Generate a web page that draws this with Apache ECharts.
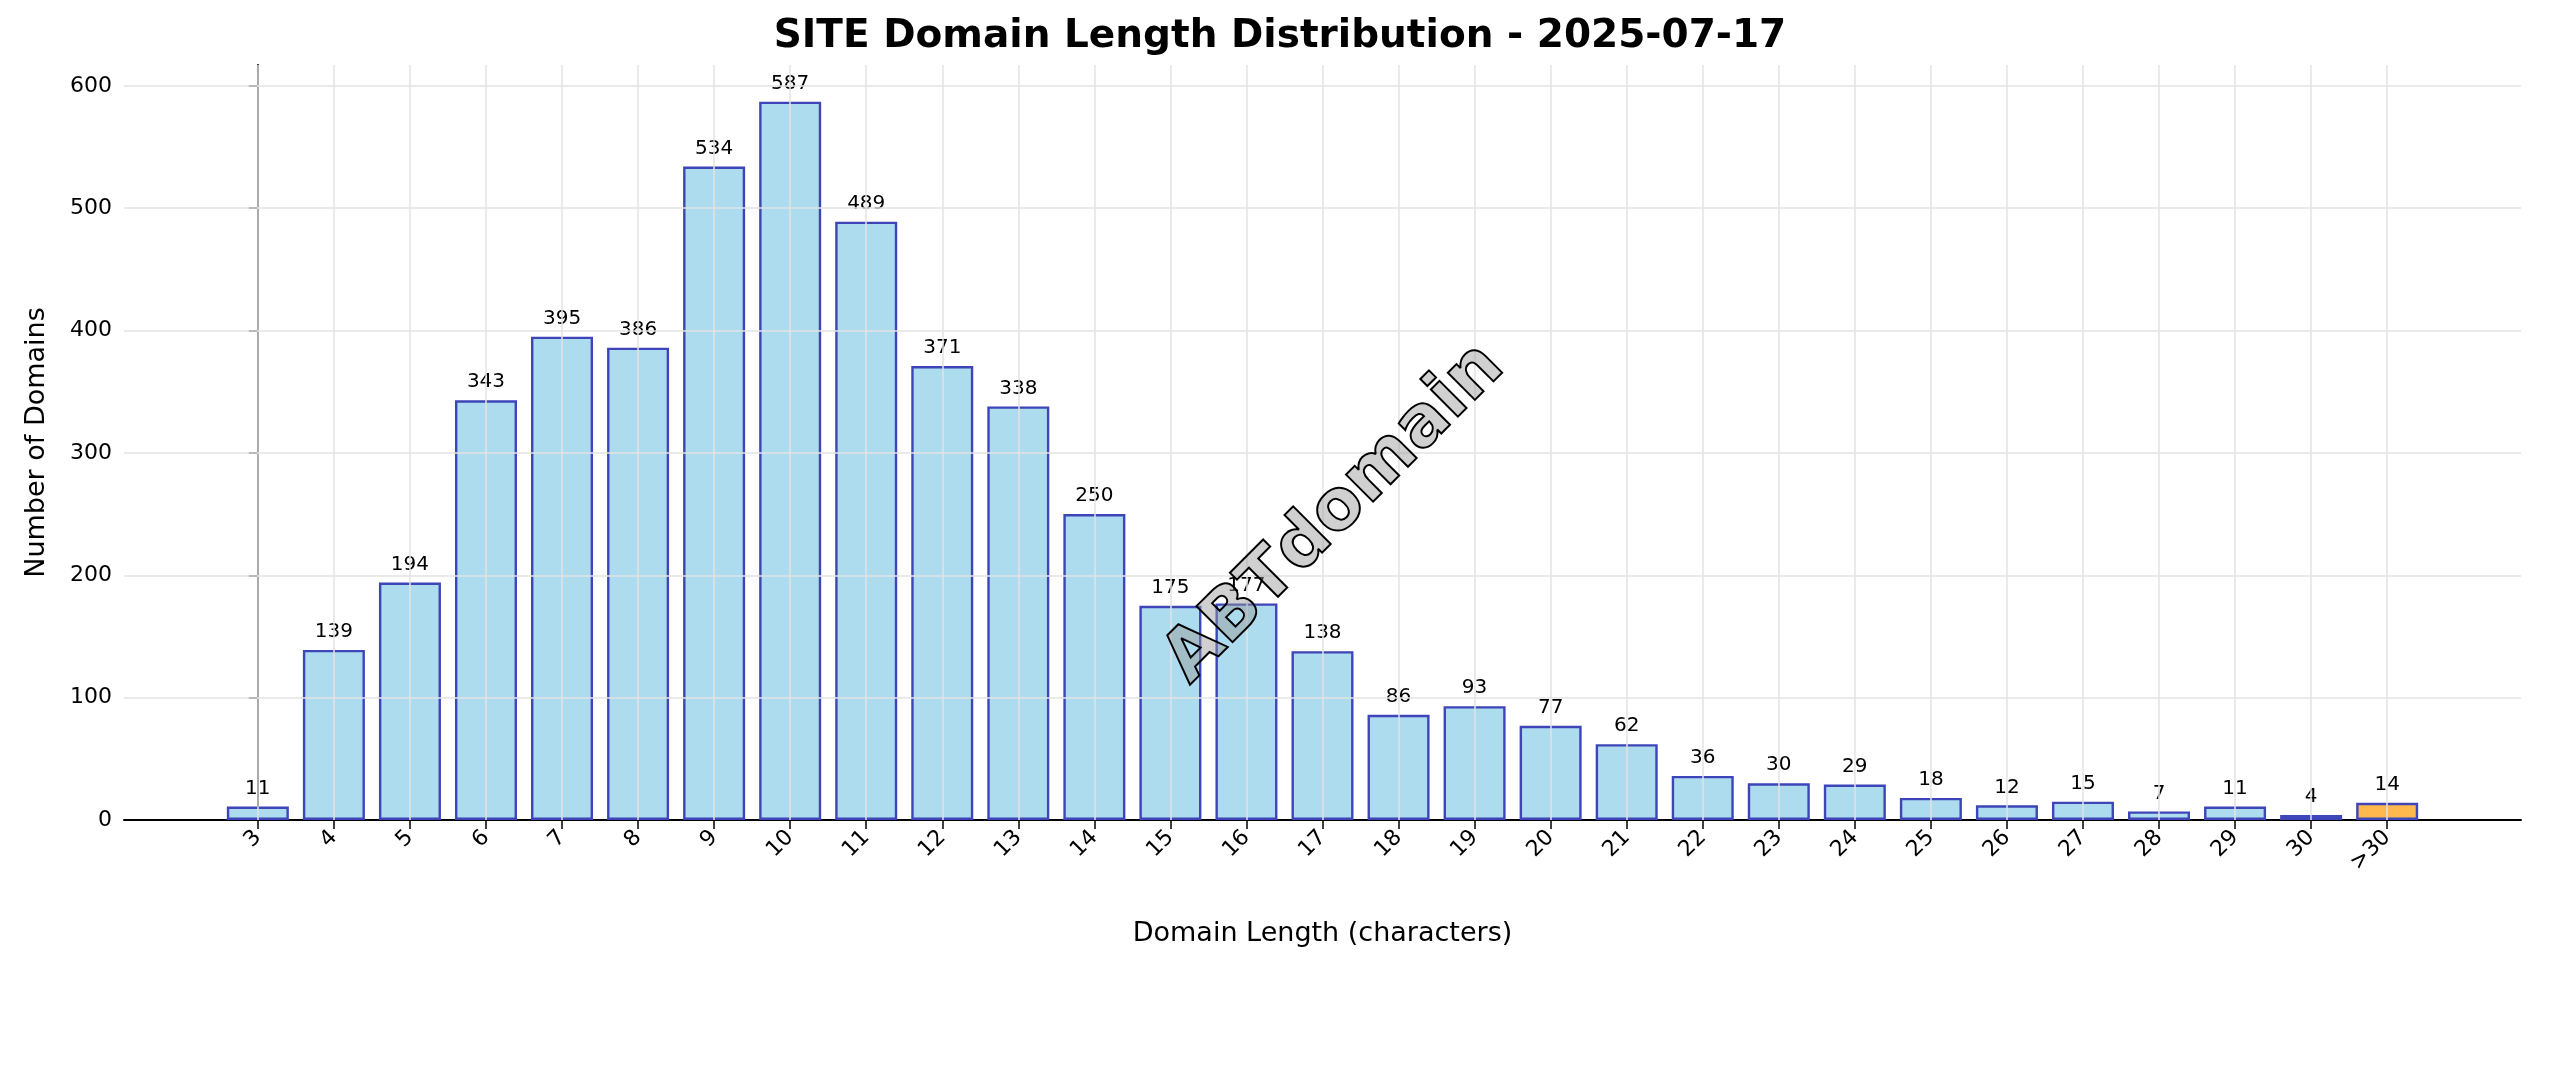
<!DOCTYPE html>
<html><head><meta charset="utf-8">
<script src="https://cdn.jsdelivr.net/npm/echarts@6/dist/echarts.min.js"></script>
<style>html,body{margin:0;padding:0;background:#fff}#c{width:2560px;height:1087px}</style>
</head><body><div id="c"></div>
<script>
const categories = ['3','4','5','6','7','8','9','10','11','12','13','14','15','16','17','18','19','20','21','22','23','24','25','26','27','28','29','30','>30'];
const counts = [11,139,194,343,395,386,534,587,489,371,338,250,175,177,138,86,93,77,62,36,30,29,18,12,15,7,11,4,14];
const yTicks = [0,100,200,300,400,500,600];

const idx = categories.map((c,i)=>i);
const n = categories.length;
const chart = echarts.init(document.getElementById('c'));
const font = 'DejaVu Sans';
chart.setOption({
  backgroundColor:'#fff',
  textStyle:{fontFamily:font},
  title:{text:'SITE Domain Length Distribution - 2025-07-17',left:'center',top:12,
    textStyle:{fontFamily:font,fontSize:39,fontWeight:'bold',color:'#000'}},
  grid:{left:124,right:1640-1640+20+ (2560-2541) - 19 + 19,top:65,bottom:267},
  xAxis:{type:'value',min:-1.76,max:n-1+1.76,
    name:'Domain Length (characters)',nameLocation:'middle',nameGap:100,
    nameTextStyle:{fontSize:27,color:'#000'},
    axisLine:{show:true,onZero:false,lineStyle:{color:'#000',width:2}},
    splitLine:{show:false},
    axisTick:{show:true,customValues:idx,length:9,lineStyle:{color:'#000',width:1.5}},
    axisLabel:{customValues:idx,formatter:v=>categories[Math.round(v)]??'',rotate:45,fontSize:22,color:'#000',margin:14}},
  yAxis:{type:'value',min:0,max:617,
    name:'Number of Domains',nameLocation:'middle',nameGap:74,
    nameTextStyle:{fontSize:27,color:'#000'},
    axisLine:{show:true,lineStyle:{color:'#000',width:2}},
    axisTick:{show:true,customValues:yTicks,length:9,lineStyle:{color:'#000',width:1.5}},
    axisLabel:{customValues:yTicks,fontSize:22,color:'#000',margin:12},
    splitLine:{show:false}},
  graphic:[
    {type:'text',x:1335,y:514,rotation:Math.PI/4,style:{text:'ABTdomain',fontSize:70,fontWeight:'bold',fill:'rgba(150,150,150,0.45)',align:'center',verticalAlign:'middle',fontFamily:font},z:50}
  ],
  series:[{
    type:'bar',barWidth:62,
    data:counts.map((v,i)=>({value:[i,v],itemStyle:i===n-1?{color:'#FFB84D'}:undefined})),
    itemStyle:{color:'#ADDCEF',borderColor:'#3D45B8',borderWidth:2.4},
    label:{show:true,position:'top',distance:8,fontSize:20,color:'#000',formatter:p=>p.value[1]},
    markLine:{silent:true,symbol:'none',label:{show:false},
      lineStyle:{color:'#e3e3e3',type:'solid',width:1.5},
      data:idx.map(i=>({xAxis:i})).concat(yTicks.slice(1).map(t=>({yAxis:t})))},
    z:2
  }]
});
// frame
const gw = 2560-124-19, gh = 1087-65-267;
chart.setOption({graphic:[{type:'rect',shape:{x:124,y:65,width:gw,height:gh},style:{fill:'none',stroke:'#000',lineWidth:2},z:100},
  {type:'text',x:1335,y:514,rotation:Math.PI/4,style:{text:'ABTdomain',fontSize:70,fontWeight:'bold',fill:'rgba(150,150,150,0.45)',align:'center',verticalAlign:'middle',fontFamily:font},z:50}]});
</script></body></html>
